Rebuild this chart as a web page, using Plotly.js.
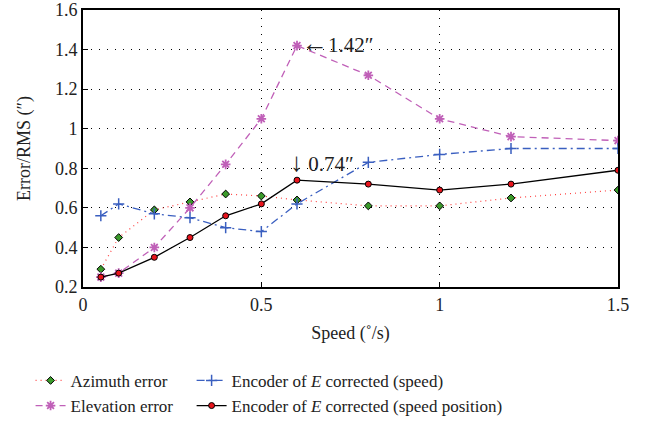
<!DOCTYPE html>
<html><head><meta charset="utf-8">
<script src="https://cdn.plot.ly/plotly-3.0.1.min.js"></script>
<style>html,body{margin:0;padding:0;background:#fff}</style>
</head><body>
<div id="chart" style="width:653px;height:429px"></div>
<script>
const speed = [0.05, 0.1, 0.2, 0.3, 0.4, 0.5, 0.6, 0.8, 1.0, 1.2, 1.5];
const azimuthError = [0.29, 0.45, 0.59, 0.63, 0.67, 0.66, 0.64, 0.61, 0.61, 0.65, 0.69];
const elevationError = [0.25, 0.27, 0.40, 0.60, 0.82, 1.05, 1.42, 1.27, 1.05, 0.96, 0.94];
const encoderSpeed = [0.56, 0.62, 0.57, 0.55, 0.50, 0.48, 0.62, 0.83, 0.87, 0.90, 0.90];
const encoderSpeedPos = [0.25, 0.27, 0.35, 0.45, 0.56, 0.62, 0.74, 0.72, 0.69, 0.72, 0.79];
const seriesNames = ["Azimuth error", "Elevation error", "Encoder of <i>E</i> corrected (speed)", "Encoder of <i>E</i> corrected (speed position)"];
const xTicks = [0, 0.5, 1, 1.5];
const xTickText = ["0", "0.5", "1", "1.5"];
const yTicks = [0.2, 0.4, 0.6, 0.8, 1.0, 1.2, 1.4, 1.6];
const yTickText = ["0.2", "0.4", "0.6", "0.8", "1", "1.2", "1.4", "1.6"];

const FONT = "Liberation Serif";

const traces = [
  {x: speed, y: azimuthError, name: seriesNames[0], mode: "lines+markers", legend: "legend",
   line: {color: "#ff4040", width: 1.2, dash: "1px,4px"},
   marker: {symbol: "diamond", size: 6, color: "#3a9a2a", line: {color: "#000", width: 1}}},
  {x: speed, y: elevationError, name: seriesNames[1], mode: "lines+markers", legend: "legend",
   line: {color: "#c060b8", width: 1.3, dash: "7px,5px"},
   marker: {symbol: "asterisk-open", size: 8, color: "#c060b8", line: {color: "#c060b8", width: 1.8}}},
  {x: speed, y: encoderSpeed, name: seriesNames[2], mode: "lines+markers", legend: "legend2",
   line: {color: "#3a5fc0", width: 1.3, dash: "8px,4px,2px,4px"},
   marker: {symbol: "cross-thin-open", size: 8, color: "#3a5fc0", line: {color: "#3a5fc0", width: 1.5}}},
  {x: speed, y: encoderSpeedPos, name: seriesNames[3], mode: "lines+markers", legend: "legend2",
   line: {color: "#000", width: 1.3},
   marker: {symbol: "circle", size: 6, color: "#e8141c", line: {color: "#000", width: 1}}}
];

const legendCommon = {
  orientation: "v", xanchor: "left", yanchor: "top", bgcolor: "rgba(0,0,0,0)",
  font: {family: FONT, size: 17, color: "#222"}, tracegroupgap: 0, itemwidth: 30
};

const layout = {
  width: 653, height: 429,
  margin: {l: 83, r: 35, t: 10, b: 142, autoexpand: false},
  paper_bgcolor: "#fff", plot_bgcolor: "#fff",
  font: {family: FONT, size: 17, color: "#222"},
  showlegend: true,
  xaxis: {
    range: [0, 1.5], tickvals: xTicks, ticktext: xTickText,
    showline: true, linecolor: "#000", linewidth: 2, mirror: true,
    ticks: "inside", ticklen: 5, tickcolor: "#000",
    showgrid: true, gridcolor: "#000", gridwidth: 1, griddash: "1px,7px",
    zeroline: false, ticklabeloverflow: "allow",
    title: {text: "Speed (˚/s)", font: {family: FONT, size: 18}, standoff: 13},
    tickfont: {family: FONT, size: 18}
  },
  yaxis: {
    range: [0.2, 1.6], tickvals: yTicks, ticktext: yTickText,
    showline: true, linecolor: "#000", linewidth: 2, mirror: true,
    ticks: "inside", ticklen: 5, tickcolor: "#000",
    showgrid: true, gridcolor: "#000", gridwidth: 1, griddash: "1px,7px",
    zeroline: false, ticklabeloverflow: "allow",
    title: {text: "Error/RMS (″)", font: {family: FONT, size: 18}, standoff: 20},
    tickfont: {family: FONT, size: 18}
  },
  legend: Object.assign({}, legendCommon, {x: -0.098, y: -0.274}),
  legend2: Object.assign({}, legendCommon, {x: 0.203, y: -0.274}),
  annotations: [
    {x: speed[6], y: elevationError[6], xref: "x", yref: "y", text: "<span style='font-size:26px'>←</span>1.42″", showarrow: false,
     xanchor: "left", yanchor: "middle", xshift: 3, yshift: 2, font: {family: FONT, size: 21, color: "#222"}},
    {x: speed[6], y: encoderSpeedPos[6], xref: "x", yref: "y", text: "<span style='font-size:26px'>↓</span> 0.74″", showarrow: false,
     xanchor: "left", yanchor: "bottom", xshift: -9, yshift: 1, font: {family: FONT, size: 21, color: "#222"}}
  ]
};

Plotly.newPlot("chart", traces, layout, {displayModeBar: false, staticPlot: true});
</script>
</body></html>
